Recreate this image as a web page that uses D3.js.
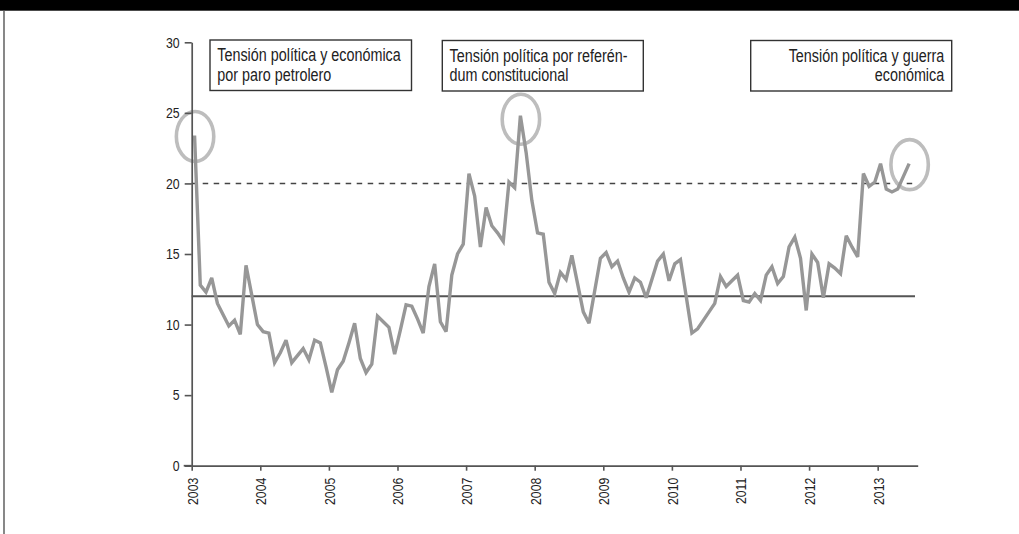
<!DOCTYPE html>
<html><head><meta charset="utf-8">
<script src="https://cdn.jsdelivr.net/npm/d3@7"></script>
<style>
html,body{margin:0;padding:0;background:#fff;}
svg{display:block;}
text{font-family:"Liberation Sans Narrow","Liberation Sans",Arial,sans-serif;fill:#222;}
</style></head><body>
<svg id="chart" width="1019" height="534"></svg>
<script>
// ---- data ----
const startYear = 2003;
const values = [
 23.4,12.8,12.3,13.3,11.5,10.7,9.9,10.3,9.3,14.2,12.1,10.0,
 9.5,9.4,7.3,8.0,8.9,7.3,7.8,8.3,7.5,8.9,8.7,7.0,
 5.2,6.8,7.4,8.7,10.1,7.6,6.6,7.2,10.6,10.2,9.8,7.9,
 9.6,11.4,11.3,10.4,9.4,12.7,14.3,10.2,9.5,13.5,15.0,15.7,
 20.7,19.1,15.5,18.3,17.0,16.5,15.9,20.1,19.7,24.8,22.2,18.8,
 16.5,16.4,13.0,12.2,13.7,13.2,14.9,12.9,10.9,10.1,12.4,14.7,
 15.1,14.1,14.5,13.3,12.3,13.3,13.0,11.9,13.2,14.5,15.0,13.1,
 14.3,14.6,12.0,9.4,9.7,10.3,10.9,11.5,13.4,12.7,13.1,13.5,
 11.7,11.6,12.2,11.7,13.5,14.1,12.9,13.4,15.5,16.2,14.7,11.0,
 15.0,14.4,11.9,14.3,14.0,13.6,16.3,15.5,14.8,20.7,19.8,20.1,
 21.4,19.6,19.4,19.6,20.5,21.4
];
const yearTicks = [2003,2004,2005,2006,2007,2008,2009,2010,2011,2012,2013];
const yTicks = [0,5,10,15,20,25,30];
const averageLevel = 12;
const thresholdLevel = 20;
const highlightIdx = [0,57,125];
const annotationTexts = [
 ["Tensión política y económica","por paro petrolero"],
 ["Tensión política por referén-","dum constitucional"],
 ["Tensión política y guerra","económica"]
];
const annotationAlign = ["start","start","end"];

// ---- layout ----
const svg = d3.select("#chart");
const W = 1019, H = 534;
const SX = 0.82; // horizontal condensing of the text face
const x = d3.scaleLinear().domain([2003, 2013 + 7/12]).range([191.7, 917.7]);
const y = d3.scaleLinear().domain([0, 30]).range([465.7, 42.3]);
const xm = i => x(startYear + (i + 0.5) / 12);

// frame
svg.append("rect").attr("x",0).attr("y",0).attr("width",W).attr("height",10.7).attr("fill","#000");
svg.append("line").attr("x1",4).attr("x2",4).attr("y1",10).attr("y2",H)
  .attr("stroke","#555").attr("stroke-width",1.4);

// reference lines
svg.append("line").attr("x1",x(2003)).attr("x2",915).attr("y1",y(thresholdLevel)).attr("y2",y(thresholdLevel))
  .attr("stroke","#444").attr("stroke-width",1.5).attr("stroke-dasharray","5.5,5.5");
svg.append("line").attr("x1",x(2003)).attr("x2",915).attr("y1",y(averageLevel)).attr("y2",y(averageLevel))
  .attr("stroke","#555").attr("stroke-width",2);

// highlight ellipses
svg.append("g").selectAll("ellipse").data(highlightIdx).join("ellipse")
  .attr("cx", d => xm(d) + 0.5)
  .attr("cy", (d,k) => y(values[d]) + (k === 1 ? 3.5 : 1))
  .attr("rx", 18.7).attr("ry", 25)
  .attr("fill","none").attr("stroke","#bdbdbd").attr("stroke-width",3.6);

// series line
const line = d3.line().x((d,i) => xm(i)).y(d => y(d));
svg.append("path").datum(values).attr("d", line)
  .attr("fill","none").attr("stroke","#979797").attr("stroke-width",3.4)
  .attr("stroke-linejoin","miter").attr("stroke-miterlimit",3);

// axes
const yAxis = svg.append("g").attr("transform",`translate(${x(2003)},0)`)
  .call(d3.axisLeft(y).tickValues(yTicks).tickSize(7).tickSizeOuter(0).tickPadding(5));
const xAxis = svg.append("g").attr("transform",`translate(0,${y(0)})`)
  .call(d3.axisBottom(x).tickValues(yearTicks).tickSize(5).tickSizeOuter(0).tickFormat(d3.format("d")));
[yAxis, xAxis].forEach(g => {
  g.select(".domain").attr("stroke","#555").attr("stroke-width",1.7);
  g.selectAll(".tick line").attr("stroke","#555").attr("stroke-width",1.6);
  g.selectAll("text").attr("font-size",15).attr("fill","#222")
    .style("font-family",'"Liberation Sans Narrow","Liberation Sans",Arial,sans-serif');
});
yAxis.selectAll(".tick text").attr("x", -12 / SX).attr("transform", `scale(${SX},1)`);
xAxis.selectAll(".tick text").attr("transform",`rotate(-90) scale(${SX},1)`).attr("text-anchor","end")
  .attr("x",-12 / SX).attr("y",0).attr("dy","0.36em");
// extend x axis line to the left to meet the zero tick
xAxis.append("line").attr("x1",x(2003)-8).attr("x2",x(2003)).attr("y1",0).attr("y2",0)
  .attr("stroke","#555").attr("stroke-width",1.7);

// annotation boxes
const boxes = [
  {x:210, y:40, w:201.5, h:50.5},
  {x:442.3, y:40.5, w:201, h:50.5},
  {x:750.7, y:40.5, w:201, h:50.5}
];
const ann = svg.append("g").selectAll("g").data(annotationTexts).join("g");
ann.append("rect")
  .attr("x",(d,i)=>boxes[i].x).attr("y",(d,i)=>boxes[i].y)
  .attr("width",(d,i)=>boxes[i].w).attr("height",(d,i)=>boxes[i].h)
  .attr("fill","#fff").attr("stroke","#333").attr("stroke-width",1.4);
ann.each(function(lines, i){
  const b = boxes[i];
  const g = d3.select(this);
  const tx = annotationAlign[i] === "end" ? b.x + b.w - 7.5 : b.x + 7.3;
  g.selectAll("text").data(lines).join("text")
    .attr("transform", (d,j) => `translate(${tx},${b.y + 21 + j * 19.5}) scale(${SX},1)`)
    .attr("text-anchor", annotationAlign[i])
    .attr("font-size", 17.5)
    .text(d => d);
});
</script>
</body></html>
